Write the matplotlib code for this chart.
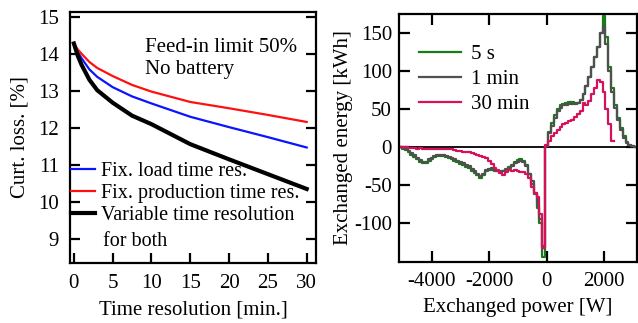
import numpy as np
import matplotlib
matplotlib.use('Agg')
from matplotlib import pyplot as plt

# left panel: curtailment loss vs time resolution
t_res = [0, 0.5, 1, 2, 3, 5, 7.5, 10, 15, 20, 25, 30]
loss_load = [14.28, 14.05, 13.88, 13.58, 13.38, 13.10, 12.85, 12.66, 12.30, 12.02, 11.75, 11.47]
loss_prod = [14.28, 14.12, 14.00, 13.78, 13.62, 13.40, 13.16, 12.98, 12.70, 12.53, 12.35, 12.16]
loss_both = [14.28, 13.95, 13.70, 13.30, 13.02, 12.68, 12.33, 12.10, 11.56, 11.15, 10.75, 10.35]

# right panel: exchanged energy histogram, 100 W bins
power = np.arange(-5100, 3101, 100)
e_5s = [0, -2, -4, -7, -10, -13, -16, -19, -21, -21, -18, -15, -13, -12, -12, -12, -13, -14,
        -16, -18, -20, -22, -24, -26, -28, -31, -34, -37, -40, -36, -31, -30, -30, -31, -32,
        -32, -31, -29, -26, -23, -19, -17, -16, -18, -24, -35, -48, -62, -80, -100, -145,
        2, 20, 32, 42, 50, 55, 57, 58, 59, 59, 58, 58, 62, 70, 80, 92, 105, 118, 132, 150,
        172, 145, 105, 78, 55, 38, 25, 14, 7, 3, 1, 0]
e_1min = [0, -1, -3, -5, -8, -11, -14, -17, -19, -19, -16, -14, -12, -11, -11, -11, -12, -13,
          -14, -16, -18, -20, -21, -23, -25, -29, -32, -35, -38, -35, -30, -29, -28, -30, -32,
          -33, -32, -30, -28, -25, -21, -19, -18, -20, -25, -35, -45, -60, -75, -95, -130,
          2, 18, 28, 38, 47, 52, 55, 56, 57, 57, 57, 58, 62, 70, 80, 92, 105, 118, 132, 150,
          158, 135, 100, 72, 52, 35, 22, 12, 6, 3, 1, 0]
e_30min = [0, 0, 0, -1, -1, -1, -2, -1, -2, -2, -2, -2, -3, -2, -3, -2, -3, -2,
           -3, -4, -5, -5, -6, -7, -7, -8, -9, -10, -12, -13, -14, -18, -22, -27, -30,
           -34, -36, -33, -30, -31, -30, -32, -33, -33, -35, -40, -52, -60, -66, -88, -133,
           3, 8, 14, 18, 22, 26, 30, 32, 34, 36, 40, 44, 48, 58, 55, 60, 70, 78, 88, 86,
           72, 50, 30, 8, np.nan, np.nan, np.nan, np.nan, np.nan, np.nan, np.nan, np.nan]

plt.rcParams['font.family'] = ['Liberation Serif', 'DejaVu Serif']
plt.rcParams['font.size'] = 15
plt.rcParams['axes.unicode_minus'] = False
plt.rcParams['axes.linewidth'] = 1.6

fig = plt.figure(figsize=(6.38, 3.23), dpi=100)

# ---- left
ax1 = fig.add_axes([0.1097, 0.1858, 0.3856, 0.777])
ax1.plot(t_res, loss_load, color='#0a14ff', lw=1.6, label='Fix. load time res.')
ax1.plot(t_res, loss_prod, color='#ff1010', lw=1.6, label='Fix. production time res.')
ax1.plot(t_res, loss_both, color='black', lw=3.0, label='Variable time resolution')
ax1.set_xlim(-0.5, 31.2)
ax1.set_ylim(8.35, 15.13)
ax1.set_xticks([0, 5, 10, 15, 20, 25, 30])
ax1.set_yticks([9, 10, 11, 12, 13, 14, 15])
ax1.tick_params(direction='in', length=7, width=1.6, left=True, right=True, pad=8)
ax1.set_xlabel('Time resolution [min.]', labelpad=5)
ax1.set_ylabel('Curt. loss. [%]', labelpad=6)
ax1.text(9.2, 14.42, 'Feed-in limit 50%\nNo battery', va='top', ha='left', linespacing=1.2)
leg = ax1.legend(loc='upper left', bbox_to_anchor=(-0.03, 0.435), frameon=False, fontsize=14.5,
                 handlelength=1.2, handletextpad=0.3, labelspacing=0.15, borderaxespad=0)
# second line of the last legend entry
ax1.text(0.135, 0.085, 'for both', transform=ax1.transAxes, fontsize=14.5, va='center')

# ---- right
ax2 = fig.add_axes([0.6254, 0.1889, 0.373, 0.7678])
ax2.axhline(0, color='black', lw=1.3)
ax2.plot(power, e_5s, color='#1a7a1a', lw=1.6, drawstyle='steps-mid', label='5 s')
ax2.plot(power, e_1min, color='#505050', lw=1.6, drawstyle='steps-mid', label='1 min')
ax2.plot(power, e_30min, color='#d8105c', lw=1.6, drawstyle='steps-mid', label='30 min')
ax2.set_xlim(-5150, 3150)
ax2.set_ylim(-151, 175)
ax2.set_xticks([-4000, -2000, 0, 2000])
ax2.set_yticks([-100, -50, 0, 50, 100, 150])
ax2.tick_params(direction='in', length=8, width=1.6, left=True, right=True, top=True, pad=7)
ax2.tick_params(axis='y', pad=5)
ax2.set_xlabel('Exchanged power [W]', labelpad=5)
ax2.set_ylabel('Exchanged energy [kWh]', labelpad=1)
ax2.legend(loc='upper left', bbox_to_anchor=(0.05, 0.91), frameon=False,
           handlelength=2.0, handletextpad=0.5, labelspacing=0.25, borderaxespad=0)

fig.savefig('out.png', dpi=100)
